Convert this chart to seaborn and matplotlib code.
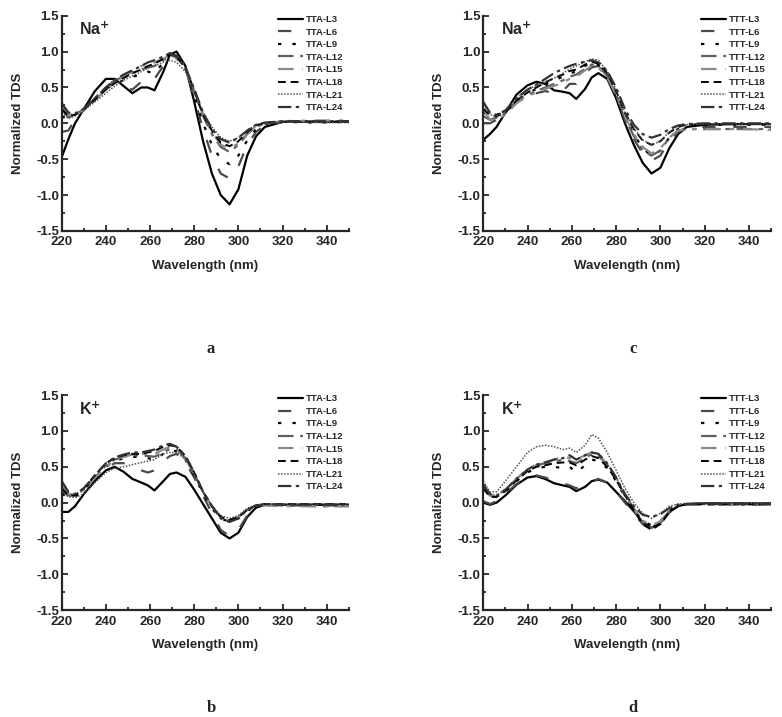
"""
Normalized TDS spectra of TTA/TTT loop-length variants in Na+ and K+.
"""

import pandas as pd
import seaborn as sns
import matplotlib.pyplot as plt
from matplotlib.ticker import AutoMinorLocator, MultipleLocator

# wavelength grid (nm)
wl = [220, 223, 226, 230, 235, 240, 244, 248, 252, 256, 259, 262, 266, 269,
      272, 276, 280, 284, 288, 292, 296, 300, 304, 308, 312, 320, 335, 350]
loops = ["L3", "L6", "L9", "L12", "L15", "L18", "L21", "L24"]

# panel a: TTA in Na+
tta_na = [
    [-0.47, -0.22, 0.0, 0.2, 0.45, 0.62, 0.62, 0.52, 0.42, 0.5, 0.5, 0.46, 0.72, 0.96, 1.0, 0.8, 0.3, -0.25, -0.7, -1.0, -1.13, -0.92, -0.45, -0.18, -0.05, 0.02, 0.02, 0.02],
    [-0.12, -0.1, 0.05, 0.18, 0.35, 0.5, 0.6, 0.5, 0.47, 0.58, 0.65, 0.62, 0.8, 0.95, 0.95, 0.8, 0.35, -0.08, -0.45, -0.7, -0.77, -0.6, -0.3, -0.12, -0.03, 0.02, 0.02, 0.02],
    [0.1, 0.05, 0.12, 0.2, 0.35, 0.48, 0.55, 0.6, 0.65, 0.68, 0.72, 0.7, 0.85, 0.96, 0.94, 0.8, 0.4, 0.0, -0.3, -0.5, -0.57, -0.45, -0.24, -0.08, -0.01, 0.02, 0.01, 0.02],
    [0.2, 0.08, 0.12, 0.2, 0.35, 0.5, 0.6, 0.65, 0.7, 0.75, 0.78, 0.8, 0.88, 0.95, 0.92, 0.78, 0.45, 0.1, -0.15, -0.33, -0.4, -0.3, -0.15, -0.05, 0.0, 0.02, 0.03, 0.03],
    [0.25, 0.12, 0.12, 0.18, 0.32, 0.47, 0.58, 0.65, 0.72, 0.8, 0.83, 0.85, 0.9, 0.95, 0.9, 0.75, 0.45, 0.12, -0.12, -0.3, -0.35, -0.28, -0.14, -0.04, 0.0, 0.03, 0.04, 0.04],
    [0.2, 0.1, 0.12, 0.2, 0.33, 0.47, 0.56, 0.63, 0.7, 0.75, 0.8, 0.83, 0.9, 0.97, 0.93, 0.78, 0.45, 0.12, -0.1, -0.27, -0.32, -0.25, -0.12, -0.03, 0.01, 0.02, 0.02, 0.02],
    [0.15, 0.07, 0.1, 0.18, 0.3, 0.42, 0.52, 0.6, 0.66, 0.72, 0.77, 0.8, 0.85, 0.88, 0.85, 0.72, 0.45, 0.15, -0.05, -0.2, -0.25, -0.2, -0.1, -0.02, 0.01, 0.02, 0.01, 0.01],
    [0.28, 0.15, 0.14, 0.2, 0.35, 0.5, 0.6, 0.68, 0.74, 0.8, 0.85, 0.88, 0.93, 0.98, 0.93, 0.78, 0.48, 0.15, -0.08, -0.22, -0.27, -0.2, -0.1, -0.02, 0.01, 0.03, 0.03, 0.03],
]

# panel c: TTT in Na+
ttt_na = [
    [-0.23, -0.15, -0.05, 0.15, 0.4, 0.53, 0.58, 0.55, 0.46, 0.44, 0.42, 0.34, 0.48, 0.64, 0.7, 0.62, 0.35, 0.0, -0.3, -0.55, -0.7, -0.62, -0.35, -0.15, -0.05, -0.02, -0.01, -0.01],
    [0.0, 0.0, 0.05, 0.15, 0.3, 0.38, 0.42, 0.45, 0.42, 0.45, 0.55, 0.55, 0.7, 0.78, 0.8, 0.65, 0.38, 0.05, -0.22, -0.42, -0.52, -0.45, -0.25, -0.12, -0.06, -0.05, -0.05, -0.05],
    [0.15, 0.12, 0.12, 0.15, 0.32, 0.42, 0.48, 0.55, 0.6, 0.65, 0.7, 0.72, 0.8, 0.86, 0.82, 0.68, 0.42, 0.1, -0.15, -0.35, -0.45, -0.38, -0.2, -0.08, -0.03, -0.02, -0.02, -0.02],
    [0.1, 0.05, 0.08, 0.15, 0.3, 0.4, 0.45, 0.5, 0.55, 0.6, 0.65, 0.68, 0.76, 0.82, 0.8, 0.66, 0.4, 0.08, -0.18, -0.38, -0.45, -0.38, -0.2, -0.1, -0.08, -0.08, -0.08, -0.08],
    [0.2, 0.05, 0.05, 0.12, 0.28, 0.38, 0.43, 0.48, 0.52, 0.57, 0.62, 0.65, 0.74, 0.8, 0.78, 0.64, 0.4, 0.1, -0.15, -0.33, -0.42, -0.35, -0.2, -0.1, -0.08, -0.08, -0.08, -0.09],
    [0.2, 0.12, 0.1, 0.15, 0.32, 0.43, 0.5, 0.57, 0.63, 0.68, 0.73, 0.75, 0.82, 0.86, 0.83, 0.7, 0.45, 0.15, -0.08, -0.24, -0.3, -0.25, -0.13, -0.05, -0.02, -0.01, -0.01, -0.01],
    [0.25, 0.12, 0.1, 0.17, 0.35, 0.47, 0.53, 0.58, 0.63, 0.7, 0.76, 0.8, 0.86, 0.9, 0.88, 0.73, 0.47, 0.15, -0.07, -0.23, -0.3, -0.25, -0.12, -0.04, -0.02, -0.01, -0.01, -0.01],
    [0.3, 0.15, 0.12, 0.18, 0.35, 0.47, 0.54, 0.62, 0.7, 0.76, 0.8, 0.83, 0.86, 0.88, 0.85, 0.73, 0.5, 0.2, -0.02, -0.15, -0.2, -0.16, -0.08, -0.03, -0.01, 0.0, 0.0, 0.0],
]

# panel b: TTA in K+
tta_k = [
    [-0.13, -0.13, -0.05, 0.12, 0.3, 0.45, 0.5, 0.43, 0.33, 0.28, 0.24, 0.17, 0.3, 0.4, 0.42, 0.36, 0.18, -0.02, -0.22, -0.42, -0.5, -0.42, -0.2, -0.07, -0.03, -0.03, -0.03, -0.03],
    [0.15, 0.1, 0.1, 0.2, 0.35, 0.48, 0.55, 0.55, 0.5, 0.45, 0.42, 0.45, 0.58, 0.65, 0.68, 0.56, 0.35, 0.1, -0.15, -0.38, -0.47, -0.38, -0.18, -0.06, -0.03, -0.04, -0.04, -0.04],
    [0.12, 0.08, 0.08, 0.18, 0.35, 0.5, 0.58, 0.62, 0.64, 0.63, 0.62, 0.6, 0.68, 0.72, 0.72, 0.6, 0.38, 0.12, -0.08, -0.22, -0.27, -0.22, -0.12, -0.04, -0.02, -0.03, -0.03, -0.03],
    [0.2, 0.12, 0.1, 0.18, 0.35, 0.52, 0.6, 0.64, 0.66, 0.66, 0.65, 0.64, 0.7, 0.75, 0.74, 0.62, 0.4, 0.15, -0.05, -0.2, -0.25, -0.2, -0.1, -0.04, -0.03, -0.04, -0.05, -0.05],
    [0.25, 0.12, 0.1, 0.18, 0.35, 0.5, 0.6, 0.64, 0.67, 0.68, 0.68, 0.68, 0.74, 0.78, 0.75, 0.62, 0.4, 0.15, -0.05, -0.2, -0.25, -0.2, -0.1, -0.05, -0.04, -0.05, -0.05, -0.05],
    [0.2, 0.1, 0.1, 0.2, 0.38, 0.55, 0.62, 0.66, 0.68, 0.68, 0.7, 0.72, 0.78, 0.8, 0.78, 0.65, 0.42, 0.15, -0.05, -0.2, -0.24, -0.2, -0.1, -0.04, -0.02, -0.02, -0.02, -0.02],
    [0.15, 0.08, 0.07, 0.12, 0.28, 0.42, 0.48, 0.5, 0.53, 0.56, 0.58, 0.6, 0.68, 0.7, 0.7, 0.6, 0.4, 0.15, -0.05, -0.18, -0.22, -0.18, -0.08, -0.03, -0.02, -0.02, -0.02, -0.02],
    [0.3, 0.15, 0.12, 0.2, 0.38, 0.55, 0.63, 0.67, 0.7, 0.7, 0.72, 0.74, 0.8, 0.82, 0.78, 0.65, 0.42, 0.15, -0.05, -0.22, -0.27, -0.22, -0.1, -0.04, -0.02, -0.03, -0.03, -0.03],
]

# panel d: TTT in K+
ttt_k = [
    [0.0, -0.03, 0.0, 0.1, 0.25, 0.35, 0.37, 0.33, 0.27, 0.24, 0.22, 0.16, 0.22, 0.3, 0.32, 0.28, 0.15, 0.02, -0.12, -0.27, -0.35, -0.28, -0.13, -0.05, -0.02, -0.01, -0.01, -0.01],
    [0.02, -0.02, 0.02, 0.12, 0.26, 0.36, 0.38, 0.35, 0.3, 0.27, 0.24, 0.2, 0.24, 0.3, 0.33, 0.28, 0.15, 0.0, -0.15, -0.3, -0.37, -0.3, -0.14, -0.05, -0.02, -0.01, -0.01, -0.01],
    [0.2, 0.08, 0.08, 0.15, 0.3, 0.42, 0.48, 0.5, 0.5, 0.48, 0.5, 0.42, 0.52, 0.6, 0.58, 0.48, 0.3, 0.08, -0.1, -0.25, -0.32, -0.26, -0.12, -0.04, -0.02, -0.02, -0.02, -0.02],
    [0.22, 0.1, 0.1, 0.18, 0.33, 0.46, 0.52, 0.55, 0.57, 0.6, 0.58, 0.55, 0.62, 0.68, 0.65, 0.53, 0.33, 0.1, -0.1, -0.28, -0.35, -0.28, -0.12, -0.05, -0.03, -0.03, -0.03, -0.03],
    [0.22, 0.1, 0.1, 0.18, 0.33, 0.47, 0.53, 0.56, 0.6, 0.64, 0.62, 0.6, 0.66, 0.7, 0.66, 0.55, 0.35, 0.12, -0.08, -0.25, -0.32, -0.26, -0.12, -0.05, -0.03, -0.03, -0.03, -0.03],
    [0.2, 0.08, 0.08, 0.16, 0.31, 0.44, 0.5, 0.52, 0.55, 0.56, 0.56, 0.52, 0.6, 0.65, 0.62, 0.5, 0.32, 0.1, -0.1, -0.3, -0.38, -0.3, -0.13, -0.05, -0.02, -0.02, -0.02, -0.02],
    [0.3, 0.15, 0.15, 0.3, 0.5, 0.7, 0.78, 0.8, 0.78, 0.74, 0.76, 0.7, 0.8, 0.95, 0.9, 0.7, 0.45, 0.2, 0.0, -0.15, -0.22, -0.15, -0.05, -0.02, -0.01, -0.01, -0.01, -0.01],
    [0.25, 0.12, 0.1, 0.18, 0.33, 0.46, 0.53, 0.56, 0.6, 0.62, 0.66, 0.6, 0.66, 0.7, 0.68, 0.55, 0.35, 0.12, -0.05, -0.17, -0.2, -0.16, -0.08, -0.03, -0.02, -0.02, -0.02, -0.02],
]

# line styles per loop length (black / greys, Origin-like dashes)
colors = ["black", "#4a4a4a", "black", "#5f5f5f", "#8a8a8a", "black", "#555555", "#333333"]
dashes = ["-", (0, (6, 8)), (0, (1.5, 5)), (0, (7, 3, 2, 3)), (0, (7, 4, 2, 4)),
          (0, (4, 2.5)), (0, (1, 1)), (0, (6, 2, 1.5, 2))]
widths = [1.6, 1.6, 1.6, 1.6, 1.6, 1.4, 1.1, 1.6]

sns.set_style("ticks")
plt.rcParams["font.family"] = ["Liberation Sans", "DejaVu Sans"]
plt.rcParams["font.weight"] = "bold"

fig = plt.figure(figsize=(7.82, 7.17), dpi=100)
panels = [
    (tta_na, "TTA", "Na$^{\\mathbf{+}}$", [0.079, 0.678, 0.367, 0.300], "a", 0.513),
    (ttt_na, "TTT", "Na$^{\\mathbf{+}}$", [0.618, 0.678, 0.368, 0.300], "c", 0.513),
    (tta_k, "TTA", "K$^{\\mathbf{+}}$", [0.079, 0.149, 0.367, 0.300], "b", 0.012),
    (ttt_k, "TTT", "K$^{\\mathbf{+}}$", [0.618, 0.149, 0.368, 0.300], "d", 0.012),
]

for data, seq, ion, pos, letter, ly in panels:
    ax = fig.add_axes(pos)
    for i, loop in enumerate(loops):
        sns.lineplot(x=wl, y=data[i], ax=ax, color=colors[i], lw=widths[i],
                     label=f"{seq}-{loop}", sort=False)
        ax.lines[-1].set_linestyle(dashes[i])
    ax.set_xlim(220, 350)
    ax.set_ylim(-1.5, 1.5)
    ax.xaxis.set_major_locator(MultipleLocator(20))
    ax.yaxis.set_major_locator(MultipleLocator(0.5))
    ax.xaxis.set_minor_locator(AutoMinorLocator(2))
    ax.yaxis.set_minor_locator(AutoMinorLocator(2))
    ax.yaxis.set_major_formatter(plt.FormatStrFormatter("%.1f"))
    ax.tick_params(which="both", direction="in", width=1.3, labelsize=9.5)
    ax.tick_params(axis="x", pad=4)
    ax.tick_params(axis="y", pad=2)
    ax.tick_params(which="major", length=4)
    ax.tick_params(which="minor", length=2.5)
    for s in ["top", "right"]:
        ax.spines[s].set_visible(False)
    for s in ["left", "bottom"]:
        ax.spines[s].set_linewidth(1.6)
    for lab in ax.get_xticklabels() + ax.get_yticklabels():
        lab.set_fontweight("bold")
    ax.set_xlabel("Wavelength (nm)", fontsize=9.5, fontweight="bold", labelpad=8)
    ax.set_ylabel("Normalized TDS", fontsize=9.5, fontweight="bold", labelpad=9)
    ax.text(0.06, 0.975, ion, transform=ax.transAxes, fontsize=11.5,
            fontweight="bold", va="top", ha="left")
    ax.legend(loc="upper right", bbox_to_anchor=(1.0, 1.03), frameon=False,
              prop={"size": 6.8, "weight": "bold"}, handlelength=2.6,
              handletextpad=0.3, labelspacing=0.38, borderaxespad=0.2)
    fig.text(pos[0] + pos[2] * 0.52, ly, letter, ha="center", va="center",
             fontsize=12, fontweight="bold", family=["Liberation Serif", "DejaVu Serif"])

plt.savefig("out.png", dpi=100)
